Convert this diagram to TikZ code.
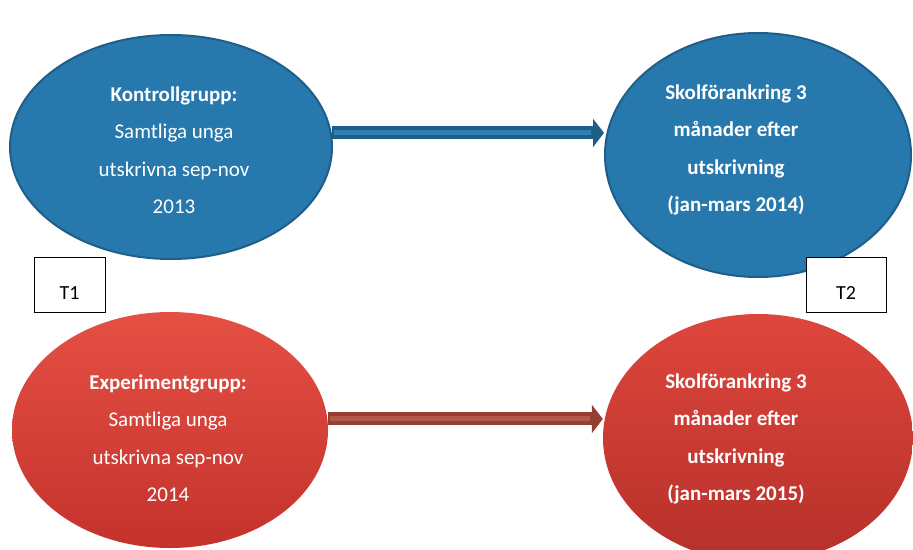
\documentclass[tikz,border=0pt]{standalone}
\usepackage{fontspec}
\setmainfont{Carlito}
\usetikzlibrary{shapes.geometric,arrows.meta,calc}
\definecolor{bfill}{RGB}{39,121,173}
\definecolor{bdraw}{RGB}{30,94,136}
\definecolor{blight}{RGB}{48,128,178}
\definecolor{rtop}{RGB}{229,80,68}
\definecolor{rbot}{RGB}{196,50,44}
\definecolor{rtopb}{RGB}{222,70,60}
\definecolor{rbotb}{RGB}{182,48,42}
\definecolor{rarrow}{RGB}{148,62,52}
\definecolor{rlight}{RGB}{176,88,74}
\tikzset{
  blueell/.style={ellipse, draw=bdraw, line width=2pt, fill=bfill, inner sep=0pt},
  redell/.style={ellipse, inner sep=0pt},
  gtext/.style={text=white, align=center, inner sep=0pt, font=\fontsize{21}{37.5}\selectfont},
  btext/.style={gtext, font=\fontsize{21}{37.5}\selectfont\bfseries},
  tbox/.style={draw=black, line width=0.9pt, fill=white, inner sep=0pt, text height=42pt, text depth=13pt, font=\fontsize{20}{22}\selectfont},
  barrowline/.style={draw=bdraw, line width=13pt, -{Triangle[length=11pt,width=28pt]}},
  rarrowline/.style={draw=rarrow, line width=13pt, -{Triangle[length=11pt,width=28pt]}},
}
\begin{document}
\begin{tikzpicture}[x=1pt,y=-1pt]
\useasboundingbox (0,0) rectangle (913,549);
\fill[white] (0,0) rectangle (913,549);

% ellipses
\node[blueell, minimum width=322pt, minimum height=224pt] (kg) at (171,147) {};
\node[blueell, minimum width=306pt, minimum height=244pt] (sk1) at (758,155) {};
\node[redell, top color=rtop, bottom color=rbot, minimum width=316pt, minimum height=236pt] (eg) at (170,430) {};
\node[redell, top color=rtopb, bottom color=rbotb, minimum width=310pt, minimum height=248pt] (sk2) at (758,438) {};

% texts
\node[gtext] (kgt) at (174,150) {\textbf{Kontrollgrupp:}\\Samtliga unga\\utskrivna sep-nov\\2013};
\node[btext] (sk1t) at (736,150) {Skolförankring 3\\månader efter\\utskrivning\\(jan-mars 2014)};
\node[gtext] (egt) at (168,438) {\textbf{Experimentgrupp:}\\Samtliga unga\\utskrivna sep-nov\\2014};
\node[btext] (sk2t) at (736,439) {Skolförankring 3\\månader efter\\utskrivning\\(jan-mars 2015)};

% arrows
\draw[barrowline] (kg.5) -- (kg.5 -| sk1.west);
\draw[blight, line width=5pt, shorten >=13pt, shorten <=2pt] (kg.5) -- (kg.5 -| sk1.west);
\draw[rarrowline] (eg.4) -- (eg.4 -| sk2.west);
\draw[rlight, line width=5pt, shorten >=13pt, shorten <=2pt] (eg.4) -- (eg.4 -| sk2.west);

% time boxes
\node[tbox, minimum width=71pt] (t1) at (69.5,284.5) {T1};
\node[tbox, minimum width=80pt] (t2) at (846,284.5) {T2};
\end{tikzpicture}
\end{document}
